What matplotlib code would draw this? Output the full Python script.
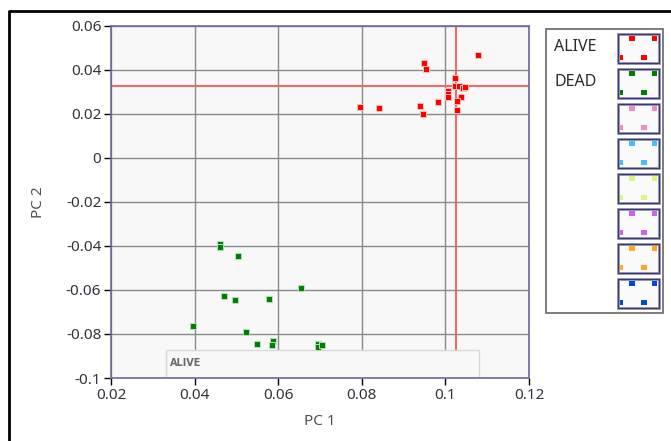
import matplotlib.pyplot as plt
from matplotlib.patches import Rectangle

plt.rcParams['font.family'] = ['Noto Sans', 'DejaVu Sans']

# PCA scores
alive_pc1 = [0.1077, 0.0949, 0.0954, 0.1023, 0.1024, 0.1032, 0.1041, 0.1048, 0.1006, 0.1006,
             0.1006, 0.1037, 0.1028, 0.0982, 0.0796, 0.0841, 0.0939, 0.0947, 0.1028]
alive_pc2 = [0.0465, 0.0429, 0.0405, 0.0362, 0.0326, 0.0326, 0.0315, 0.0321, 0.0305, 0.0290,
             0.0277, 0.0274, 0.0259, 0.0254, 0.0229, 0.0224, 0.0234, 0.0197, 0.0218]
dead_pc1 = [0.0460, 0.0460, 0.0504, 0.0655, 0.0471, 0.0496, 0.0579, 0.0395, 0.0523, 0.0550,
            0.0588, 0.0584, 0.0696, 0.0696, 0.0705]
dead_pc2 = [-0.0392, -0.0407, -0.0448, -0.0592, -0.0629, -0.0648, -0.0639, -0.0762, -0.0792,
            -0.0844, -0.0833, -0.0850, -0.0844, -0.0859, -0.0850]

# crosshair (alive centre)
cross_x = 0.1026
cross_y = 0.0326

x_ticks = [0.02, 0.04, 0.06, 0.08, 0.1, 0.12]
x_labels = ['0.02', '0.04', '0.06', '0.08', '0.1', '0.12']
y_ticks = [0.06, 0.04, 0.02, 0, -0.02, -0.04, -0.06, -0.08, -0.1]
y_labels = ['0.06', '0.04', '0.02', '0', '-0.02', '-0.04', '-0.06', '-0.08', '-0.1']

legend_names = ['ALIVE', 'DEAD']
legend_colors = ['#ff0000', '#008000', '#f48cc4', '#40c0ff', '#d8f878', '#d060f0', '#ffa820', '#0048e0']

W, H = 671, 441
fig = plt.figure(figsize=(W / 100, H / 100), dpi=100)

# overlay in pixel coordinates for frame and legend panel
ov = fig.add_axes([0, 0, 1, 1], zorder=0)
ov.set_xlim(0, W)
ov.set_ylim(H, 0)
ov.axis('off')
ov.plot([9, 9, W + 5], [H + 5, 11, 11], color='black', lw=2, solid_capstyle='butt')

ov.add_patch(Rectangle((546, 29), 117, 284, facecolor='white', edgecolor='#666666', lw=1.2))
for i, name in enumerate(legend_names):
    ov.text(554, 47 + i * 35, name, fontsize=11.5, color='#2a2a2a', va='center', ha='left')
for i, c in enumerate(legend_colors):
    top = 34 + i * 35.05
    ov.add_patch(Rectangle((618, top), 41, 29, facecolor='#fafafa', edgecolor='#9090b8', lw=2))
    ov.add_patch(Rectangle((618, top), 41, 29, facecolor='none', edgecolor='#3a3a6a', lw=0.8))
    for dx, dy, w, h in [(11, 2, 6, 5), (34, 2, 5, 5), (1.5, 21, 3, 5), (23, 21, 6, 5)]:
        ov.add_patch(Rectangle((618 + dx, top + dy), w, h, facecolor=c, edgecolor='none'))

ax = fig.add_axes([111 / W, 1 - 378 / H, 418 / W, 352.3 / H], zorder=1)
ax.set_facecolor('#f8f8f8')
ax.set_xlim(0.02, 0.12)
ax.set_ylim(-0.1, 0.06)
ax.set_xticks(x_ticks, x_labels)
ax.set_yticks(y_ticks, y_labels)
ax.grid(True, color='#8a8a8a', lw=1)
ax.set_axisbelow(True)
ax.tick_params(length=5, width=1, color='black', labelsize=11, labelcolor='#33333f', pad=2)
for s in ax.spines.values():
    s.set_color('#6a6a98')
    s.set_linewidth(1.2)

ax.axvline(cross_x, color='#ff5555', lw=1.3, zorder=2)
ax.axhline(cross_y, color='#ff5555', lw=1.3, zorder=2)

ax.scatter(alive_pc1, alive_pc2, marker='s', s=20, color='#ff0000',
           edgecolors='#ffc0c0', linewidths=0.7, zorder=3)
ax.scatter(dead_pc1, dead_pc2, marker='s', s=20, color='#008000',
           edgecolors='#b8e0b8', linewidths=0.7, zorder=3)

# small "ALIVE" box along the bottom of the plot
ax.add_patch(Rectangle((0.1316, 0.0), 0.748, 0.0795, transform=ax.transAxes,
                       facecolor='#f8f8f8', edgecolor='#d8d8d8', lw=1, zorder=2))
ax.text(0.142, 0.042, 'ALIVE', transform=ax.transAxes, fontsize=7, fontweight='bold',
        family='DejaVu Sans', color='#6a6a6a', va='center', ha='left', zorder=3)

ax.set_xlabel('PC 1', fontsize=11, color='#505050', labelpad=8)
ax.set_ylabel('PC 2', fontsize=11, color='#505050', labelpad=14)

fig.savefig('out.png', dpi=100)
